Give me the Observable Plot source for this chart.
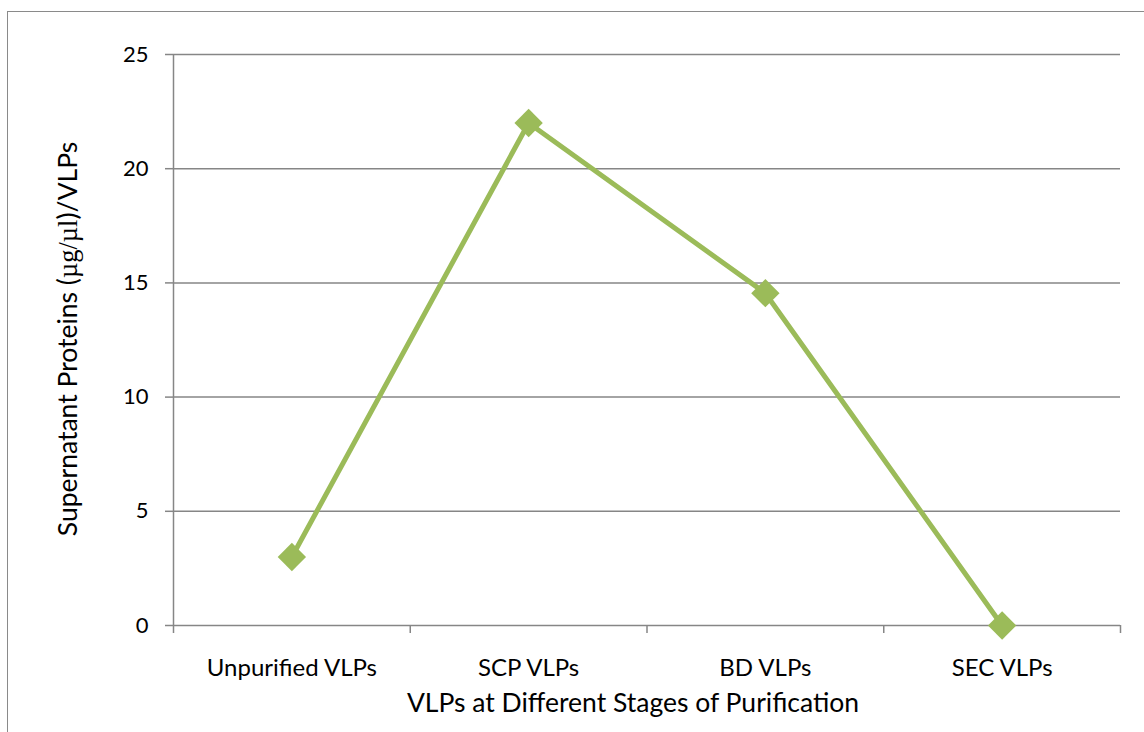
<!DOCTYPE html>
<html>
<head>
<meta charset="utf-8">
<script src="https://cdn.jsdelivr.net/npm/d3@7"></script>
<script src="https://cdn.jsdelivr.net/npm/@observablehq/plot@0.6"></script>
<style>
  html, body { margin: 0; padding: 0; width: 1144px; height: 732px; overflow: hidden; background: #fff; }
  #frame { position: absolute; left: 7px; top: 11px; width: 1300px; height: 900px; border: 1.5px solid #8a8a8a; box-sizing: border-box; }
  #chart { position: absolute; left: 0; top: 0; }
</style>
</head>
<body>
<div id="frame"></div>
<div id="chart"></div>
<script>
const categories = ["Unpurified VLPs", "SCP VLPs", "BD VLPs", "SEC VLPs"];
const values = [3, 22, 14.55, 0];
const yTicks = [0, 5, 10, 15, 20, 25];
const xLabel = "VLPs at Different Stages of Purification";
const yLabelParts = [["Supernatant Proteins (", "Lato"], ["µg/µl", "Liberation Serif"], [")/VLPs", "Lato"]];

const data = categories.map((c, i) => ({ category: c, pos: i + 0.5, value: values[i] }));
const boundaries = d3.range(categories.length + 1);
const green = "#9BBB59";
const grey = "#868686";

const plot = Plot.plot({
  width: 1144,
  height: 732,
  marginLeft: 173,
  marginRight: 24,
  marginTop: 54,
  marginBottom: 107,
  style: { fontFamily: "Lato, sans-serif", fontSize: "22px", color: "#000", background: "transparent", overflow: "visible" },
  x: { domain: [0, categories.length], label: null },
  y: { domain: [0, 25], label: null },
  marks: [
    Plot.ruleY(yTicks, { stroke: grey, strokeWidth: 1.5 }),
    Plot.ruleX([0], { y1: 0, y2: 25, stroke: grey, strokeWidth: 1.5 }),
    Plot.axisY({ ticks: yTicks, tickSize: 8, tickPadding: 17, stroke: grey, strokeWidth: 1.5, fill: "#000", fontSize: 22 }),
    Plot.axisX({ ticks: boundaries, tickSize: 8, tickFormat: () => "", stroke: grey, strokeWidth: 1.5 }),
    Plot.axisX({ ticks: data.map(d => d.pos), tickSize: 0, tickPadding: 33, tickFormat: (d) => categories[Math.floor(d)], fill: "#000", fontSize: 24 }),
    Plot.line(data, { x: "pos", y: "value", stroke: green, strokeWidth: 5 }),
    Plot.dot(data, { x: "pos", y: "value", symbol: "square", r: 11.3, rotate: 45, fill: green, stroke: "none" })
  ]
});

document.getElementById("chart").appendChild(plot);

const svg = d3.select(plot);
// x axis title
svg.append("text")
  .attr("x", 633)
  .attr("y", 712)
  .attr("text-anchor", "middle")
  .attr("font-family", "Lato, sans-serif")
  .attr("font-size", 26.5)
  .attr("fill", "#000")
  .text(xLabel);
// y axis title with mixed fonts
const yt = svg.append("text")
  .attr("transform", `translate(77, 339) rotate(-90)`)
  .attr("text-anchor", "middle")
  .attr("font-size", 26.5)
  .attr("fill", "#000");
yLabelParts.forEach(([t, f]) => yt.append("tspan").attr("font-family", f).text(t));
</script>
</body>
</html>
